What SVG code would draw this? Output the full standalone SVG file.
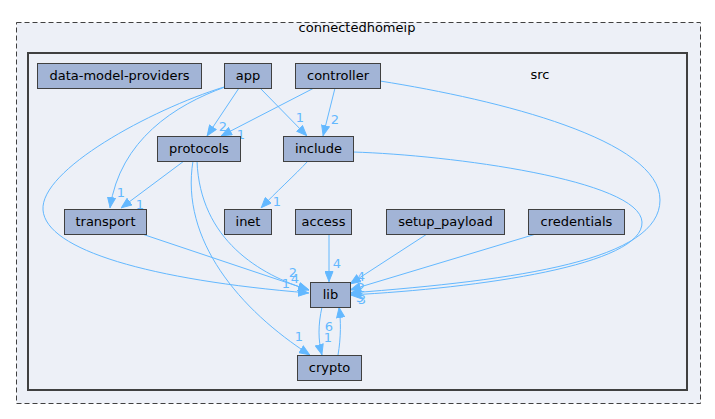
<svg xmlns="http://www.w3.org/2000/svg" width="715" height="419" viewBox="0 0 715 419">
<defs>
<style>
.n rect{fill:#a2b4d6;stroke:#404040;stroke-width:1}
text{font-family:"DejaVu Sans",sans-serif;font-size:13px}
.n text{fill:#000;text-anchor:middle}
.e path{fill:none;stroke:#63b8ff;stroke-width:1;marker-end:url(#a)}
.l text{fill:#63b8ff;text-anchor:middle}
</style>
<marker id="a" markerWidth="11" markerHeight="9" refX="11" refY="4.5" orient="auto" markerUnits="userSpaceOnUse"><path d="M0.5,0.5 L10.5,4.5 L0.5,8.5 z" fill="#63b8ff" stroke="#63b8ff"/></marker>
</defs>
<rect width="715" height="419" fill="#fff"/>
<g id="cluster-connectedhomeip">
<rect x="16.5" y="22.5" width="684" height="381" fill="#edf0f7" stroke="#404040" stroke-dasharray="5,3"/>
<text x="357" y="32" text-anchor="middle">connectedhomeip</text>
</g>
<g id="cluster-src">
<rect x="28" y="53" width="659" height="337" fill="#edf0f7" stroke="#404040" stroke-width="2"/>
<text x="540" y="79" text-anchor="middle">src</text>
</g>
<g id="connectors" class="e">
<path d="M239,88 L207,136"/>
<path d="M260,88 L307,136"/>
<path d="M225,87 C175,105 120,140 110,208"/>
<path d="M224,87 C150,110 40,170 43,210 C46,250 150,280 309,293"/>
<path d="M314,88 L221,136"/>
<path d="M335,88 L323,136"/>
<path d="M380,81 C500,100 660,140 660,200 C660,260 520,280 350,293"/>
<path d="M184,161 L121,208"/>
<path d="M197,161 C200,240 260,275 309,290"/>
<path d="M193,161 C180,240 240,310 310,355"/>
<path d="M308,161 C295,175 275,193 261,208"/>
<path d="M353,152 C450,155 640,180 642,222 C644,265 480,288 350,295"/>
<path d="M142,234 L309,290"/>
<path d="M329,234 L329,282"/>
<path d="M427,234 L350,284"/>
<path d="M536,234 L350,290"/>
<path d="M322,307 C318,325 318,340 322,355"/>
<path d="M338,355 C341,338 341,320 339,307"/>
</g>
<g id="edge-labels" class="l">
<text x="223" y="131">2</text>
<text x="300" y="122">1</text>
<text x="335" y="124">2</text>
<text x="241" y="139">1</text>
<text x="121" y="197">1</text>
<text x="140" y="209">1</text>
<text x="277" y="206">1</text>
<text x="337" y="268">4</text>
<text x="293" y="277">2</text>
<text x="295" y="283">4</text>
<text x="286" y="288">1</text>
<text x="361" y="281">4</text>
<text x="361" y="292">2</text>
<text x="360" y="302">5</text>
<text x="362" y="304">3</text>
<text x="299" y="341">1</text>
<text x="329" y="331">6</text>
<text x="328" y="342">1</text>
</g>
<g id="node-data-model-providers" class="n"><rect x="37.5" y="63.5" width="164" height="25"/><text x="119.5" y="80">data-model-providers</text></g>
<g id="node-app" class="n"><rect x="224.5" y="63.5" width="47" height="25"/><text x="248" y="80">app</text></g>
<g id="node-controller" class="n"><rect x="295.5" y="63.5" width="85" height="25"/><text x="338" y="80">controller</text></g>
<g id="node-protocols" class="n"><rect x="157.5" y="136.5" width="83" height="25"/><text x="199" y="153">protocols</text></g>
<g id="node-include" class="n"><rect x="283.5" y="136.5" width="70" height="25"/><text x="318.5" y="153">include</text></g>
<g id="node-transport" class="n"><rect x="64.5" y="209.5" width="82" height="25"/><text x="105.5" y="226">transport</text></g>
<g id="node-inet" class="n"><rect x="224.5" y="209.5" width="47" height="25"/><text x="248" y="226">inet</text></g>
<g id="node-access" class="n"><rect x="295.5" y="209.5" width="56" height="25"/><text x="323.5" y="226">access</text></g>
<g id="node-setup_payload" class="n"><rect x="386.5" y="209.5" width="118" height="25"/><text x="445.5" y="226">setup_payload</text></g>
<g id="node-credentials" class="n"><rect x="528.5" y="209.5" width="96" height="25"/><text x="576.5" y="226">credentials</text></g>
<g id="node-lib" class="n"><rect x="310.5" y="282.5" width="40" height="25"/><text x="330.5" y="299">lib</text></g>
<g id="node-crypto" class="n"><rect x="297.5" y="355.5" width="64" height="25"/><text x="329.5" y="372">crypto</text></g>
</svg>
